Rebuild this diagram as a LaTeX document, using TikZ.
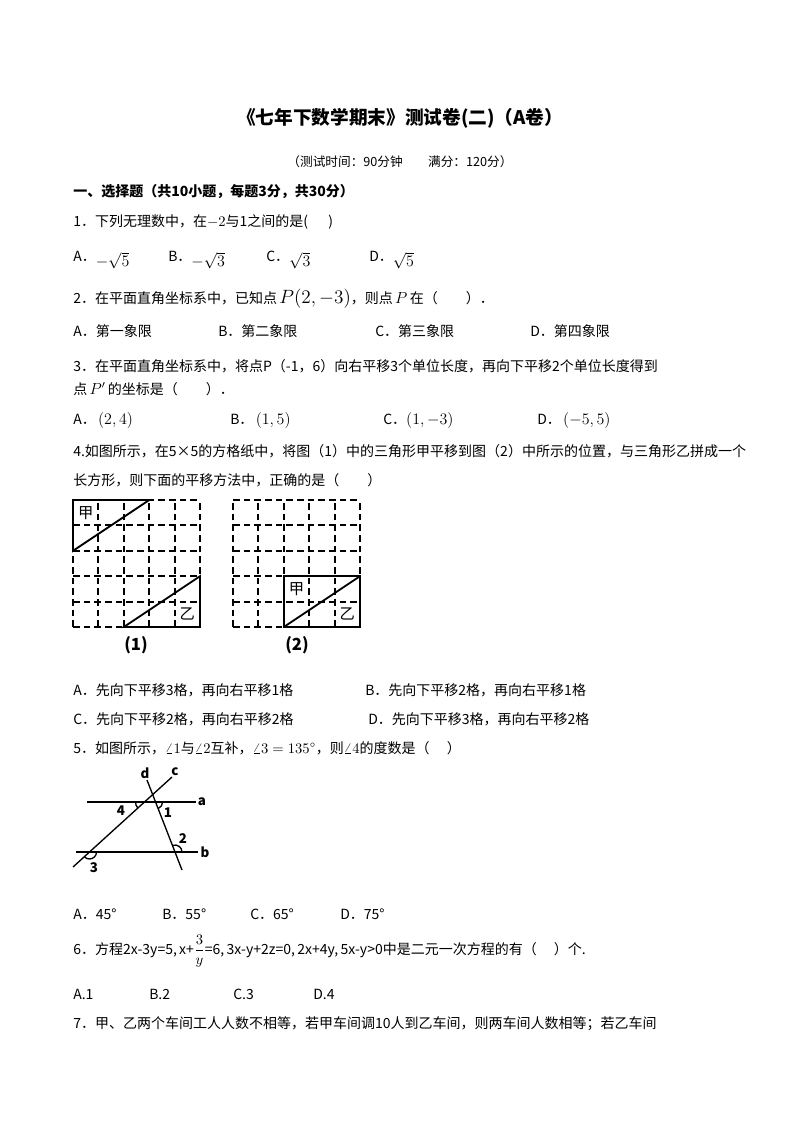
\documentclass[tikz,border=0pt]{standalone}
\usepackage{fontspec}
\setmainfont{Noto Sans CJK SC}
\begin{document}
\begin{tikzpicture}[x=0.75pt,y=-0.75pt,
  t/.style={anchor=west,inner sep=0,font=\fontsize{10.5pt}{12pt}\selectfont},
  sol/.style={line width=1.4pt},
  dsh/.style={line width=1.4pt,dash pattern=on 5pt off 3pt},
  ln/.style={line width=1pt},
  lb/.style={inner sep=0,font=\fontsize{10pt}{12pt}\selectfont\bfseries\itshape}]
\useasboundingbox (0,0) rectangle (800,1132);
\node[inner sep=0,font=\fontsize{14pt}{16pt}\selectfont\bfseries] (title) at (400,118) {《七年下数学期末》测试卷(二)（A卷）};
\node[inner sep=0,font=\fontsize{9.5pt}{11pt}\selectfont] (sub) at (400,162) {（测试时间：90分钟\quad\quad 满分：120分）};
\node[t,font=\fontsize{10.5pt}{12pt}\selectfont\bfseries] (h1) at (73,192) {一、选择题（共10小题，每题3分，共30分）};
\node[t] (q1) at (73,222) {1．下列无理数中，在$-2$与1之间的是(\quad\ \ )};
\node[t] (q1a) at (73,260) {A．\raisebox{-4pt}{\large$-\sqrt5$}};
\node[t] (q1b) at (168,260) {B．\raisebox{-4pt}{\large$-\sqrt3$}};
\node[t] (q1c) at (266,260) {C．\raisebox{-4pt}{\large$\sqrt3$}};
\node[t] (q1d) at (369,260) {D．\raisebox{-4pt}{\large$\sqrt5$}};
\node[t] (q2) at (73,299) {2．在平面直角坐标系中，已知点\,{\Large$P(2,-3)$}，则点\,{\large$P$}\,在（\quad\quad）．};
\node[t] (q2a) at (73,331) {A．第一象限};
\node[t] (q2b) at (218,331) {B．第二象限};
\node[t] (q2c) at (375,331) {C．第三象限};
\node[t] (q2d) at (530,331) {D．第四象限};
\node[t] (q3) at (73,366) {3．在平面直角坐标系中，将点P（-1，6）向右平移3个单位长度，再向下平移2个单位长度得到};
\node[t] (q3b) at (73,389) {点\,{\large$P'$}\,的坐标是（\quad\quad）．};
\node[t] (q3oa) at (73,420) {A．\,{\large$(2,4)$}};
\node[t] (q3ob) at (230,420) {B．\,{\large$(1,5)$}};
\node[t] (q3oc) at (383,420) {C．{\large$(1,-3)$}};
\node[t] (q3od) at (537,420) {D．\,{\large$(-5,5)$}};
\node[t] (q4) at (73,451) {4.如图所示，在5×5的方格纸中，将图（1）中的三角形甲平移到图（2）中所示的位置，与三角形乙拼成一个};
\node[t] (q4b) at (73,480) {长方形，则下面的平移方法中，正确的是（\quad\quad）};
\begin{scope}[shift={(73,627)},x=25.4*0.75pt,y=25.4*0.75pt]
  \foreach \i in {0,...,5}{\draw[dsh] (\i,0)--(\i,5); \draw[dsh] (0,\i)--(5,\i);}
  \draw[sol] (0,3)--(0,5)--(3,5)--cycle;
  \draw[sol] (2,0)--(5,0)--(5,2)--cycle;
  \node[inner sep=0,font=\fontsize{11.5pt}{12pt}\selectfont] (j1) at (0.5,4.5) {甲};
  \node[inner sep=0,font=\fontsize{11.5pt}{12pt}\selectfont] (y1) at (4.5,0.5) {乙};
\end{scope}
\begin{scope}[shift={(233,627)},x=25.4*0.75pt,y=25.4*0.75pt]
  \foreach \i in {0,...,5}{\draw[dsh] (\i,0)--(\i,5); \draw[dsh] (0,\i)--(5,\i);}
  \draw[sol] (2,0) rectangle (5,2);
  \draw[sol] (2,0)--(5,2);
  \node[inner sep=0,font=\fontsize{11.5pt}{12pt}\selectfont] (j2) at (2.5,1.5) {甲};
  \node[inner sep=0,font=\fontsize{11.5pt}{12pt}\selectfont] (y2) at (4.5,0.5) {乙};
\end{scope}
\node[inner sep=0,font=\fontsize{12.5pt}{14pt}\selectfont\bfseries] (l1) at (136,645) {(1)};
\node[inner sep=0,font=\fontsize{12.5pt}{14pt}\selectfont\bfseries] (l2) at (297,645) {(2)};
\node[t] (q4oa) at (73,690) {A．先向下平移3格，再向右平移1格};
\node[t] (q4ob) at (365,690) {B．先向下平移2格，再向右平移1格};
\node[t] (q4oc) at (73,719) {C．先向下平移2格，再向右平移2格};
\node[t] (q4od) at (368,719) {D．先向下平移3格，再向右平移2格};
\node[t] (q5) at (73,748) {5．如图所示，$\angle1$与$\angle2$互补，$\angle3=135^\circ$，则$\angle4$的度数是（\quad\ ）};
\coordinate (a1) at (87,802); \coordinate (a2) at (196,802);
\coordinate (b1) at (76,852); \coordinate (b2) at (198,852);
\coordinate (c1) at (73,867); \coordinate (c2) at (172,777);
\coordinate (d1) at (147,780); \coordinate (d2) at (182,870);
\draw[ln] (a1)--(a2); \draw[ln] (b1)--(b2); \draw[ln] (c1)--(c2); \draw[ln] (d1)--(d2);
\draw[ln] (144.5,802) ++(137.7:9) arc[start angle=137.7,end angle=180,radius=9];
\draw[ln] (155.6,802) ++(0:7) arc[start angle=0,end angle=68.7,radius=7];
\draw[ln] (175,852) ++(-111.3:7) arc[start angle=-111.3,end angle=0,radius=7];
\draw[ln] (89.5,852) ++(0:7) arc[start angle=0,end angle=137.7,radius=7];
\node[lb] (ld) at (145,773) {d};
\node[lb] (lc) at (175,772) {c};
\node[lb] (la) at (202,802) {a};
\node[lb] (lbb) at (205,852) {b};
\node[lb,font=\fontsize{10pt}{12pt}\selectfont\bfseries] (n4) at (121,811) {4};
\node[lb,font=\fontsize{10pt}{12pt}\selectfont\bfseries] (n1) at (168,813) {1};
\node[lb,font=\fontsize{10pt}{12pt}\selectfont\bfseries] (n2) at (183,839) {2};
\node[lb,font=\fontsize{10pt}{12pt}\selectfont\bfseries] (n3) at (94,868) {3};
\node[t] (q5a) at (73,914) {A．45°};
\node[t] (q5b) at (162,914) {B．55°};
\node[t] (q5c) at (250,914) {C．65°};
\node[t] (q5d) at (340,914) {D．75°};
\node[t] (q6) at (73,951) {6．方程2x-3y=5,\,x+$\displaystyle\frac{3}{y}$=6,\,3x-y+2z=0,\,2x+4y,\,5x-y>0中是二元一次方程的有（\quad\ ）个.};
\node[t] (q6a) at (73,994) {A.1};
\node[t] (q6b) at (149,994) {B.2};
\node[t] (q6c) at (233,994) {C.3};
\node[t] (q6d) at (313,994) {D.4};
\node[t] (q7) at (73,1024) {7．甲、乙两个车间工人人数不相等，若甲车间调10人到乙车间，则两车间人数相等；若乙车间};
\end{tikzpicture}
\end{document}
